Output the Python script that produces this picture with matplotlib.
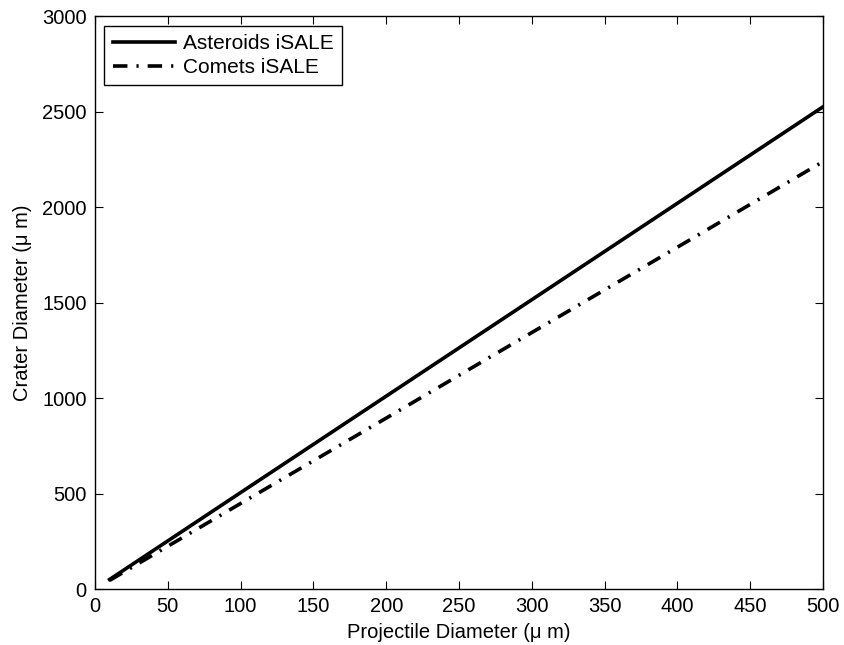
import matplotlib.pyplot as plt

plt.rcParams['font.family'] = ['Liberation Sans', 'DejaVu Sans']

# projectile diameter (um) vs crater diameter (um)
proj = [10, 50, 100, 200, 300, 400, 500]
asteroids = [50, 252, 505, 1010, 1515, 2020, 2525]
comets = [45, 224, 448, 895, 1343, 1790, 2238]

fig = plt.figure(figsize=(8.44, 6.45), dpi=100)
ax = fig.add_axes([0.1126, 0.0868, 0.8625, 0.8882])

ax.plot(proj, asteroids, color='black', lw=2.6, label='Asteroids iSALE')
ax.plot(proj, comets, color='black', lw=2.6, dashes=(4, 2.5, 0.6, 2.5), label='Comets iSALE')

ax.set_xlim(0, 500)
ax.set_ylim(0, 3000)
ax.set_xticks(range(0, 501, 50))
ax.set_yticks(range(0, 3001, 500))
ax.tick_params(direction='in', top=True, right=True, labelsize=14.5, length=6)
ax.tick_params(axis='x', pad=6)
ax.tick_params(axis='y', pad=6)
for s in ax.spines.values():
    s.set_linewidth(1.0)

ax.set_xlabel('Projectile Diameter (\u03bc m)', fontsize=14.5, labelpad=5)
ax.set_ylabel('Crater Diameter (\u03bc m)', fontsize=14.5, labelpad=7)

leg = ax.legend(loc='upper left', fontsize=15, fancybox=False, framealpha=1,
                edgecolor='black', handlelength=3.0, borderaxespad=0.45,
                labelspacing=0.25, handletextpad=0.35, borderpad=0.4)
leg.get_frame().set_linewidth(1.0)

fig.savefig('out.png', dpi=100)
